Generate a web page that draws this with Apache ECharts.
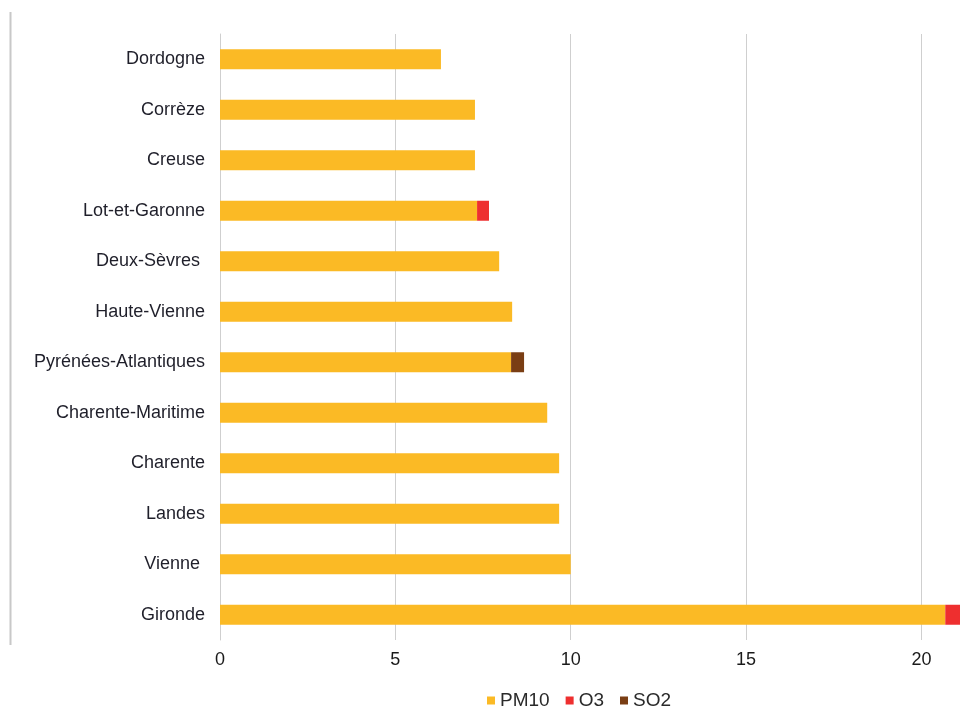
<!DOCTYPE html>
<html>
<head>
<meta charset="utf-8">
<script src="https://cdn.jsdelivr.net/npm/echarts@6/dist/echarts.min.js"></script>
<style>
  html, body { margin: 0; padding: 0; background: #fff; }
  #chart { width: 960px; height: 707px; }
</style>
</head>
<body>
<div id="chart"></div>
<script>
// départements, du haut vers le bas
const departements = [
  "Dordogne", "Corrèze", "Creuse", "Lot-et-Garonne", "Deux-Sèvres ",
  "Haute-Vienne", "Pyrénées-Atlantiques", "Charente-Maritime", "Charente",
  "Landes", "Vienne ", "Gironde"
];
const pm10 = [6.3, 7.27, 7.27, 7.33, 7.96, 8.33, 8.3, 9.33, 9.67, 9.67, 10.0, 20.68];
const o3   = [0, 0, 0, 0.34, 0, 0, 0, 0, 0, 0, 0, 0.6];
const so2  = [0, 0, 0, 0, 0, 0, 0.37, 0, 0, 0, 0, 0];
const xTicks = [0, 5, 10, 15, 20];

const myChart = echarts.init(document.getElementById("chart"));

const font = "Liberation Sans, Arial, sans-serif";

const option = {
  animation: false,
  grid: { left: 220, right: 0, top: 34, bottom: 67 },
  legend: {
    data: ["PM10", "O3", "SO2"],
    left: 487,
    top: 691,
    padding: 0,
    icon: "rect",
    itemWidth: 8,
    itemHeight: 8,
    itemGap: 16,
    textStyle: { color: "#2a2a2a", fontSize: 19, fontFamily: font }
  },
  xAxis: {
    type: "value",
    min: xTicks[0],
    max: 21.1,
    interval: 5,
    axisLine: { show: false },
    axisTick: { show: false },
    axisLabel: {
      color: "#1a1a1a",
      fontSize: 18,
      fontFamily: font,
      margin: 11,
      showMaxLabel: false
    },
    splitLine: { lineStyle: { color: "#cfcfcf", width: 1 }, showMaxLine: false }
  },
  yAxis: {
    type: "category",
    inverse: true,
    data: departements,
    axisLine: { show: true, lineStyle: { color: "#cfcfcf" } },
    axisTick: { show: false },
    axisLabel: { color: "#1f1f2a", fontSize: 18, fontFamily: font, margin: 15 }
  },
  series: [
    { name: "PM10", type: "bar", stack: "total", data: pm10, barWidth: 20,
      itemStyle: { color: "#FBBA25" } },
    { name: "O3", type: "bar", stack: "total", data: o3, barWidth: 20,
      itemStyle: { color: "#EE2F2F" } },
    { name: "SO2", type: "bar", stack: "total", data: so2, barWidth: 20,
      itemStyle: { color: "#7A3E14" } }
  ],
  graphic: [
    { type: "line", shape: { x1: 10.5, y1: 12, x2: 10.5, y2: 645 },
      style: { stroke: "#c8c8c8", lineWidth: 2 } }
  ]
};

myChart.setOption(option, true);
</script>
</body>
</html>
